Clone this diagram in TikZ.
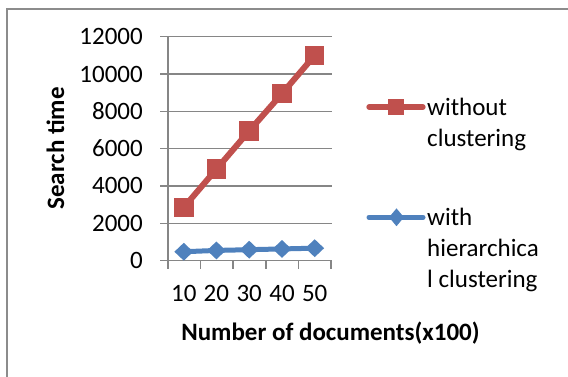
\documentclass[tikz,border=0pt]{standalone}
\usepackage{fontspec}
\setmainfont{Carlito}
\usetikzlibrary{shapes.geometric}
\definecolor{gridgray}{HTML}{868686}
\definecolor{framegray}{HTML}{8C8C8C}
\definecolor{seriesred}{HTML}{C0504D}
\definecolor{seriesblue}{HTML}{4F81BD}
\tikzset{
  every node/.style={font=\fontsize{25}{31}\selectfont, inner sep=0pt},
  gridline/.style={draw=gridgray, line width=1.2},
  axisline/.style={draw=gridgray, line width=1.6},
  redline/.style={draw=seriesred, line width=6, line cap=round, line join=round},
  blueline/.style={draw=seriesblue, line width=5, line cap=round, line join=round},
  redsq/.style={rectangle, fill=seriesred, minimum size=19.5},
  bluedia/.style={diamond, fill=seriesblue, minimum width=19, minimum height=18},
  ticklab/.style={anchor=base east},
  catlab/.style={anchor=base},
  boldlab/.style={font=\fontsize{25}{31}\selectfont\bfseries},
  legtext/.style={anchor=base west, align=left},
}
\begin{document}
\begin{tikzpicture}[x=1pt, y=-1pt]
\useasboundingbox (0,0) rectangle (568,377);
% chart frame (only its top and left edges fall inside the page)
\draw[framegray, line width=1.6] (6.8,9) rectangle (620,420);

% value axis: 0 at y=260.5, 12000 at y=36.7
\foreach \v/\lab in {0/0,2000/2000,4000/4000,6000/6000,8000/8000,10000/10000,12000/12000} {
  \pgfmathsetmacro{\yy}{260.5-\v*0.018650}
  \ifnum\v>0 \draw[gridline] (160,\yy) -- (331.5,\yy); \fi
  \node[ticklab] at (143,\yy+8) {\lab};
}
% axes and category ticks
\draw[axisline] (167.7,36.7) -- (167.7,269);
\draw[axisline] (160,260.5) -- (331.5,260.5);
\foreach \x in {200.3,233,265.7,298.3,331} {
  \draw[axisline] (\x,260.5) -- (\x,269);
}
% category labels
\foreach \x/\lab in {183.8/10,216.4/20,249.2/30,282/40,314.7/50} {
  \node[catlab] at (\x,301) {\lab};
}

% data points
\coordinate (r1) at (183.8,{260.5-2850*0.01865});
\coordinate (r2) at (216.4,{260.5-4900*0.01865});
\coordinate (r3) at (249.2,{260.5-6950*0.01865});
\coordinate (r4) at (282,{260.5-8950*0.01865});
\coordinate (r5) at (314.7,{260.5-11000*0.01865});
\coordinate (b1) at (183.8,{260.5-470*0.01865});
\coordinate (b2) at (216.4,{260.5-540*0.01865});
\coordinate (b3) at (249.2,{260.5-580*0.01865});
\coordinate (b4) at (282,{260.5-620*0.01865});
\coordinate (b5) at (314.7,{260.5-660*0.01865});

\draw[redline] (r1) -- (r2) -- (r3) -- (r4) -- (r5);
\draw[blueline] (b1) -- (b2) -- (b3) -- (b4) -- (b5);
\foreach \i in {1,...,5} {
  \node[redsq] (rm\i) at (r\i) {};
  \node[bluedia] (bm\i) at (b\i) {};
}

% axis titles
\node[boldlab, rotate=90, anchor=base] (ytitle) at (64,148.5) {Search time};
\node[boldlab, anchor=base] (xtitle) at (330.5,340) {Number of documents(x100)};

% legend (text nodes are anchored at the baseline of their last line)
\coordinate (lr1) at (369,107);
\coordinate (lr2) at (423,107);
\draw[redline, line width=5.3] (lr1) -- (lr2);
\node[redsq, minimum size=16.5] (lrm) at (396,107) {};
\node[legtext] (lrt) at (427,146.7) {without\\clustering};

\coordinate (lb1) at (369,217.3);
\coordinate (lb2) at (423,217.3);
\draw[blueline] (lb1) -- (lb2);
\node[bluedia, minimum width=15, minimum height=18] (lbm) at (396.5,217.3) {};
\node[legtext] (lbt) at (427,287) {with\\hierarchica\\l clustering};
\end{tikzpicture}
\end{document}
